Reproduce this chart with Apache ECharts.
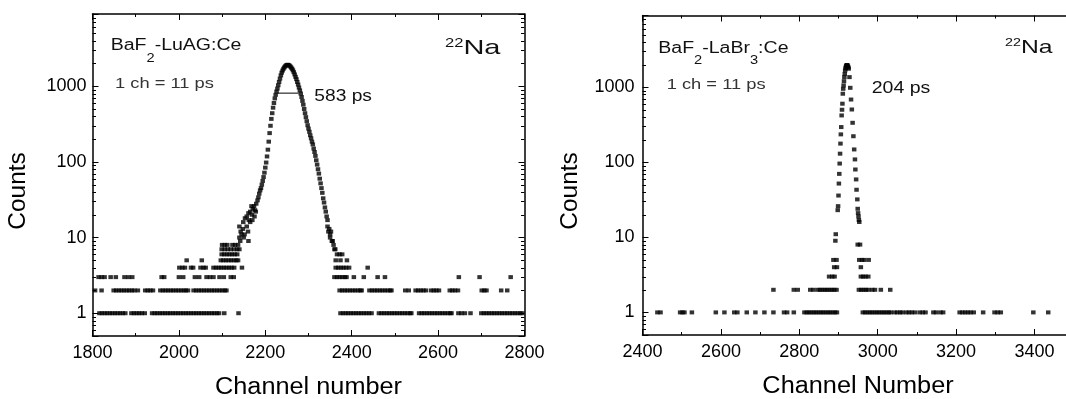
<!DOCTYPE html>
<html><head><meta charset="utf-8">
<script src="https://cdn.jsdelivr.net/npm/echarts@6/dist/echarts.min.js"></script>
<style>html,body{margin:0;padding:0;background:#fff;overflow:hidden}#c{width:1066px;height:399px}</style>
</head><body><div id="c"></div>
<script>
// ---------------- DATA ----------------
// Tick labels
const leftXTickLabels = [1800, 2000, 2200, 2400, 2600, 2800];
const rightXTickLabels = [2400, 2600, 2800, 3000, 3200, 3400];
const yTickLabels = [1, 10, 100, 1000];
const minorLogTicks = [0.6,0.7,0.8,0.9, 2,3,4,5,6,7,8,9, 20,30,40,50,60,70,80,90, 200,300,400,500,600,700,800,900, 2000,3000,4000,5000,6000,7000,8000];

// Left panel (BaF2-LuAG:Ce): channels that hold 1,2,3,... counts
const leftC1 = [1816,1822,1828,1834,1840,1846,1852,1858,1864,1870,1876, 1890,1896,1902,1908,1914,1921,
  1938,1944,1950,1956,1962,1968,1974,1980,1986,1992,1998,2004,2010,2016,2022,2028,2034,2040,2046,2052,2058,2064,2070,2076,2082,2088,2093,
  2105, 2138,
  2374,2380,2386,2392,2398,2404,2410,2416,2422,2428,2434,2440,2446,
  2463,2469,2475,2481,2487,2493,2499,2505,2511,2517,2523,2529,2535,2538,
  2556,2562,2568,2574,2580,2586,2592,2598,2604,2610,2616,2622,2628,2631,
  2647,2654,2662, 2675,
  2700,2706,2712,2718,2724,2730,2736,2742,2748,2754,2760,2766,2772,2778,2784,2790,2795];
const leftC2 = [1806, 1821, 1849,1855,1861,1867,1873,1879,1885,1891,1897,1905, 1922,1928,1934,1940,
  1957,1963,1969,1975,1981,1987,1993,1999,2005,2011,2016,2021,
  2034,2040,2046,2052,2058,2064,2070,2076,2082,2088,2094,2100,2106,2110,
  2372,2378,2384,2390,2396,2402,2408,2414,2420,2423, 2441,2447,2453,2459,2465,2471,2477,2483,2489,2492,
  2524,2532, 2548,2554,2560,2566,2572, 2584,2590,2596,2602, 2627,2633,2639,2646, 2701,2707,2712, 2746, 2760];
const leftC3 = [1814,1821,1828, 1842, 1854, 1874,1883,1892, 1960,1966, 2000,2010, 2037,2047, 2064,2072,2080, 2094,2104, 2120,2127,
  2360,2366,2372,2378,2384,2388, 2405, 2428, 2460, 2477, 2648, 2696, 2768];
const leftC4 = [2001,2008,2014, 2028,2033, 2050,2057,2062, 2080,2086,2092,2098,2104,2110,2116,2122,2128, 2146,
  2363,2369,2375,2381,2387,2394, 2437];
const leftC5 = [2018, 2053, 2097,2103,2109,2115,2121,2127,2133,2137, 2363,2374,2389];
const leftC6 = [2099,2105,2111,2117,2123,2129,2135, 2366,2372,2378];
const leftC7 = [2099,2106,2113,2120,2128,2135,2140];
const leftC8 = [2100,2106,2112, 2124,2130,2137];
// Left panel peak: [channel, counts]
const leftPeak = [[2142,9],[2161,9],[2140,10],[2150,10],[2145,11],[2140,14],[2143,12],[2148,13],[2149,16],[2152,11],[2153,18],
  [2157,19],[2157,14],[2160,12],[2161,21],[2162,17],[2165,22],[2165,16],[2168,26],[2169,20],[2170,17],[2171,24],[2174,26],
  [2175,19],[2176,23],[2178,22],[2179,28],[2182,31],[2184,34],[2186,38],[2188,42],[2190,45],[2192,50],[2194,56],[2196,63],
  [2198,72],[2200,84],[2202,98],[2204,118],[2206,145],[2208,185],[2210,240],[2212,300],[2214,370],[2216,440],[2218,520],
  [2220,600],[2222,690],[2224,770],[2226,850],[2228,930],[2230,1030],[2232,1140],[2234,1260],[2236,1390],[2238,1510],
  [2240,1610],[2242,1700],[2244,1770],[2246,1830],[2248,1880],[2250,1910],[2252,1920],[2254,1900],[2256,1870],[2258,1820],
  [2260,1760],[2262,1700],[2264,1620],[2266,1530],[2268,1430],[2270,1330],[2272,1240],[2274,1140],[2276,1050],[2278,960],
  [2280,880],[2282,800],[2284,720],[2286,640],[2288,570],[2290,500],[2292,440],[2294,390],[2296,345],[2298,305],[2300,275],
  [2302,250],[2304,225],[2306,205],[2308,185],[2310,170],[2312,150],[2314,135],[2316,120],[2318,105],[2320,92],[2322,80],
  [2324,70],[2326,60],[2328,52],[2330,45],[2332,39],[2334,33],[2336,29],[2338,25],[2340,22],[2342,19],[2344,17],[2344,14],
  [2346,12],[2348,13],[2350,11],[2350,10],[2352,12],[2354,9],[2356,9],[2358,8],[2360,7],[2362,7]];
const leftFwhmChannels = [2229, 2277];
const leftFwhmCounts = 810;

// Right panel (BaF2-LaBr3:Ce)
const rightC1 = [2438,2446, 2496,2502, 2507, 2526, 2587, 2609, 2634,2642, 2666, 2688, 2711, 2734, 2761,2769, 2786,
  2813,2819,2825,2831,2837,2843,2849,2855,2861,2867,2873,2879,2885,2891,2896,
  2962,2968,2974,2980,2986,2992,2998,3004,3010,3016,3022,3028,3033, 3043,3050,3057,3063, 3073,3080,3087,3095,
  3107,3115,3122, 3142,3149, 3160,3167, 3209,3216,3223,3230,3237,3245, 3269, 3298,3306,3314, 3397, 3435];
const rightC2 = [2734, 2786,2796, 2828,2836, 2847,2853,2859,2865,2871,2877,2883,2889,2895,
  2952,2958,2964,2970,2976, 2986,2993, 3008, 3032];
const rightC3 = [2876,2884,2890, 2957,2963,2969,2976];
const rightC4 = [2889,2896, 2957];
const rightC5 = [2887,2895, 2953,2960,2966, 2977];
const rightC8 = [2949,2955];
const rightPeak = [[2892,9],[2893,11],[2898,23],[2899,26],[2900,36],[2901,52],[2902,70],[2903,96],[2904,130],[2905,177],
  [2906,235],[2907,294],[2908,420],[2909,500],[2910,602],[2911,817],[2912,950],[2913,1054],[2914,1200],[2915,1360],
  [2916,1500],[2917,1670],[2918,1780],[2919,1870],[2920,1930],[2921,1960],[2922,1970],[2923,1940],[2924,1880],[2925,1830],
  [2926,1760],[2928,1360],[2930,980],[2932,684],[2934,504],[2936,335],[2938,222],[2940,148],[2942,109],[2943,80],
  [2945,59],[2946,43],[2948,32],[2949,24],[2950,21],[2951,19],[2952,17],[2953,16]];

// ---------------- BUILD ----------------
const FONT = "'Liberation Sans', Arial, Helvetica, sans-serif";
function rows(list) { // list of [channels, count]
  const out = [];
  list.forEach(([chs, n]) => chs.forEach(c => out.push([c, n])));
  return out;
}
const leftData = rows([[leftC1,1],[leftC2,2],[leftC3,3],[leftC4,4],[leftC5,5],[leftC6,6],[leftC7,7],[leftC8,8]]).concat(leftPeak);
const rightData = rows([[rightC1,1],[rightC2,2],[rightC3,3],[rightC4,4],[rightC5,5],[rightC8,8]]).concat(rightPeak);

const lineBlack = {color:'#000', width:1.5};
function xAxes(gi, min, max, labels) {
  const common = {type:'value', gridIndex:gi, min:min, max:max, interval:200,
    axisLine:{show:true, onZero:false, lineStyle:lineBlack},
    axisTick:{show:true, inside:true, length:6, lineStyle:{color:'#000', width:1}},
    minorTick:{show:true, splitNumber:2, length:3, lineStyle:{color:'#000', width:1}},
    splitLine:{show:false}, minorSplitLine:{show:false}};
  return [
    Object.assign({}, common, {position:'bottom', axisLabel:{show:true, margin:8, color:'#000', fontSize:18, fontFamily:FONT,
      formatter: v => labels.indexOf(v) >= 0 ? String(v) : ''}}),
    Object.assign({}, common, {position:'top', axisLabel:{show:false}})
  ];
}
function yAxes(gi, margin) {
  const common = {type:'log', logBase:10, gridIndex:gi, min:0.5, max:9000,
    axisLine:{show:true, onZero:false, lineStyle:lineBlack},
    axisTick:{show:true, inside:true, length:6, lineStyle:{color:'#000', width:1}},
    minorTick:{show:false}, splitLine:{show:false}};
  return [
    Object.assign({}, common, {position:'left', axisLabel:{show:true, margin:margin, color:'#000', fontSize:18, fontFamily:FONT,
      formatter: v => { const r = Math.round(v); return (Math.abs(v - r) < 1e-6 && yTickLabels.indexOf(r) >= 0) ? String(r) : ''; }}}),
    Object.assign({}, common, {position:'right', axisLabel:{show:false}})
  ];
}
function minorTicks(xi, yi, xmin, xmax) {
  return {type:'custom', xAxisIndex:xi, yAxisIndex:yi, silent:true, clip:false, z:5,
    data: minorLogTicks.map(v => [xmin, v]),
    renderItem: function (params, api) {
      const v = api.value(1);
      const a = api.coord([xmin, v]), b = api.coord([xmax, v]);
      const st = {stroke:'#000', lineWidth:1};
      return {type:'group', children:[
        {type:'line', shape:{x1:a[0], y1:Math.round(a[1])+0.5, x2:a[0]+3.5, y2:Math.round(a[1])+0.5}, style:st},
        {type:'line', shape:{x1:b[0]-3.5, y1:Math.round(b[1])+0.5, x2:b[0], y2:Math.round(b[1])+0.5}, style:st}
      ]};
    }};
}

// text helpers
const mctx = document.createElement('canvas').getContext('2d');
function textW(t, size) { mctx.font = size + 'px ' + FONT; return mctx.measureText(t).width; }
function textRun(x, parts, sx, color) {
  const els = []; let cx = x;
  parts.forEach(p => {
    els.push({type:'text', x:cx, y:p[2], scaleX:sx, silent:true,
      style:{text:p[0], fontSize:p[1], fontFamily:FONT, fill:color || '#000', align:'left', verticalAlign:'middle'}});
    cx += textW(p[0], p[1]) * sx;
  });
  return els;
}
function rotText(x, y, t, size) {
  return {type:'text', x:x, y:y, rotation:Math.PI/2, silent:true,
    style:{text:t, fontSize:size, fontFamily:FONT, fill:'#000', align:'center', verticalAlign:'middle'}};
}
function centerText(x, y, t, size, sx) {
  return {type:'text', x:x, y:y, scaleX:sx, silent:true,
    style:{text:t, fontSize:size, fontFamily:FONT, fill:'#000', align:'center', verticalAlign:'middle'}};
}

const graphics = [].concat(
  textRun(110.7, [['BaF',16,45.7],['2',12,58.3],['-LuAG:Ce',16,45.7]], 1.22, '#111'),
  textRun(115, [['1 ch = 11 ps',15,83.8]], 1.22, '#333'),
  textRun(314.3, [['583 ps',16,96.2]], 1.2, '#111'),
  textRun(445, [['22',12,43.7],['Na',21,48.3]], 1.38, '#111'),
  textRun(658.3, [['BaF',16,48.8],['2',12,60.8],['-LaBr',16,48.8],['3',12,60.8],[':Ce',16,48.8]], 1.22, '#111'),
  textRun(666.7, [['1 ch = 11 ps',15,85]], 1.22, '#333'),
  textRun(871.7, [['204 ps',16,88.5]], 1.22, '#111'),
  textRun(1005, [['22',11,43.3],['Na',19,48]], 1.3, '#111'),
  [rotText(18, 191, 'Counts', 24.5), rotText(570.5, 191, 'Counts', 24.5),
   centerText(308.5, 388, 'Channel number', 23, 1.1), centerText(858, 387, 'Channel Number', 23, 1.1)]
);

const chart = echarts.init(document.getElementById('c'), null, {renderer:'canvas'});
chart.setOption({
  animation:false,
  backgroundColor:'#fff',
  grid:[
    {left:92.5, top:14, width:432, height:322, containLabel:false, outerBoundsMode:'none'},
    {left:642.5, top:15.5, width:1200*0.392, height:319.5, containLabel:false, outerBoundsMode:'none'}
  ],
  xAxis: xAxes(0, 1800, 2800, leftXTickLabels).concat(xAxes(1, 2400, 3600, rightXTickLabels)),
  yAxis: yAxes(0, 6).concat(yAxes(1, 8)),
  series:[
    {type:'scatter', xAxisIndex:0, yAxisIndex:0, symbol:'rect', symbolSize:[4.5,4], itemStyle:{color:'#000'}, silent:true, data:leftData},
    {type:'line', xAxisIndex:0, yAxisIndex:0, symbol:'none', silent:true, lineStyle:{color:'#000', width:1},
      data:[[leftFwhmChannels[0], leftFwhmCounts],[leftFwhmChannels[1], leftFwhmCounts]]},
    minorTicks(0, 0, 1800, 2800),
    {type:'scatter', xAxisIndex:2, yAxisIndex:2, symbol:'rect', symbolSize:[4.5,4], itemStyle:{color:'#000'}, silent:true, data:rightData},
    minorTicks(2, 2, 2400, 3600)
  ],
  graphic: graphics
});
</script></body></html>
